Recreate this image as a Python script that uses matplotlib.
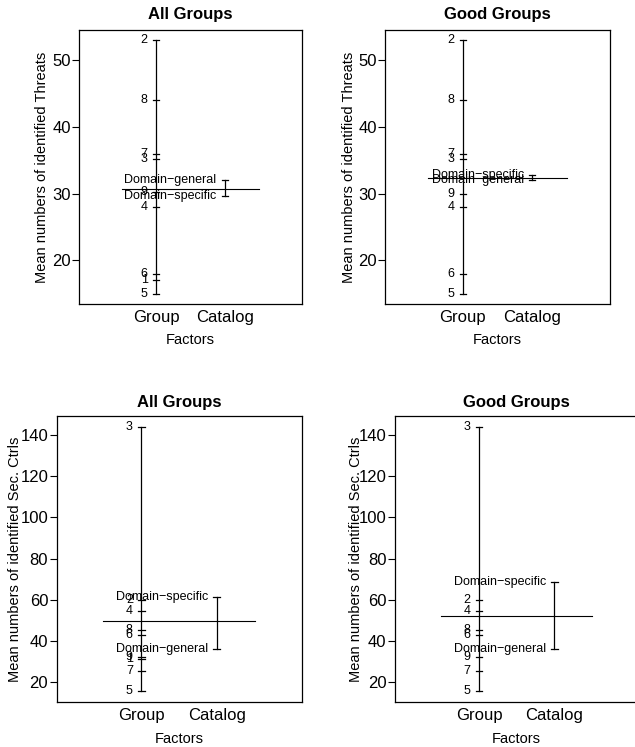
import matplotlib
matplotlib.use("Agg")
import matplotlib.pyplot as plt
import numpy as np

plt.rcParams['font.family'] = ['Liberation Sans', 'DejaVu Sans']

# ---------------- data ----------------
factor_names = ["Group", "Catalog"]

thr_all_group_labels = ["1", "2", "3", "4", "5", "6", "7", "8", "9"]
thr_all_group_values = [17.1, 53.0, 35.2, 28.0, 15.0, 18.0, 36.0, 44.0, 30.2]
thr_all_cat_labels = ["Domain\u2212general", "Domain\u2212specific"]
thr_all_cat_values = [32.0, 29.6]
thr_all_mean = 30.75

thr_good_group_labels = ["2", "3", "4", "5", "6", "7", "8", "9"]
thr_good_group_values = [53.0, 35.2, 28.0, 15.0, 18.0, 36.0, 44.0, 30.0]
thr_good_cat_labels = ["Domain\u2212general", "Domain\u2212specific"]
thr_good_cat_values = [32.0, 32.8]
thr_good_mean = 32.35

sec_all_group_labels = ["1", "2", "3", "4", "5", "6", "7", "8", "9"]
sec_all_group_values = [31.3, 60.1, 144.1, 54.4, 15.5, 43.1, 25.6, 45.1, 32.4]
sec_all_cat_labels = ["Domain\u2212general", "Domain\u2212specific"]
sec_all_cat_values = [36.2, 61.4]
sec_all_mean = 49.9

sec_good_group_labels = ["2", "3", "4", "5", "6", "7", "8", "9"]
sec_good_group_values = [60.1, 144.1, 54.4, 15.5, 42.7, 25.6, 45.1, 32.4]
sec_good_cat_labels = ["Domain\u2212general", "Domain\u2212specific"]
sec_good_cat_values = [36.2, 68.5]
sec_good_mean = 52.1

thr_yticks = [20, 30, 40, 50]
sec_yticks = [20, 40, 60, 80, 100, 120, 140]

W, H = 635, 747
fig = plt.figure(figsize=(W / 100, H / 100), dpi=100)


def add_ax(x0, x1, y0, y1):
    return fig.add_axes([x0 / W, 1 - y1 / H, (x1 - x0) / W, (y1 - y0) / H])


def design_panel(ax, groups, cats, mean, yticks, tick_fs):
    allv = list(groups[1]) + list(cats[1])
    lo, hi = min(allv), max(allv)
    r = hi - lo
    ax.set_ylim(lo - 0.04 * r, hi + 0.04 * r)
    ax.set_xlim(-0.12, 3.12)
    for i, (labs, vals) in enumerate([groups, cats], start=1):
        ax.plot([i, i], [min(vals), max(vals)], color='black', lw=0.9)
        for lab, v in zip(labs, vals):
            ax.plot([i - 0.045, i + 0.045], [v, v], color='black', lw=0.9)
            ax.annotate(lab, (i, v), xytext=(-6, 0), textcoords='offset points',
                        ha='right', va='center', fontsize=9)
    ax.plot([0.5, 2.5], [mean, mean], color='black', lw=0.8)
    ax.set_yticks(yticks)
    ax.set_yticklabels([str(t) for t in yticks], fontsize=tick_fs)
    ax.set_xticks([1, 2])
    ax.set_xticklabels(factor_names, fontsize=12)
    ax.tick_params(axis='x', length=0, pad=4)
    ax.tick_params(axis='y', length=5, width=0.8, pad=1, direction='out')
    for s in ax.spines.values():
        s.set_linewidth(0.9)


ax1 = add_ax(79, 302, 30, 304)
design_panel(ax1, (thr_all_group_labels, thr_all_group_values),
             (thr_all_cat_labels, thr_all_cat_values), thr_all_mean, thr_yticks, 12)
ax2 = add_ax(385, 610, 30, 304)
design_panel(ax2, (thr_good_group_labels, thr_good_group_values),
             (thr_good_cat_labels, thr_good_cat_values), thr_good_mean, thr_yticks, 12)
ax3 = add_ax(56.5, 301.5, 416, 702)
design_panel(ax3, (sec_all_group_labels, sec_all_group_values),
             (sec_all_cat_labels, sec_all_cat_values), sec_all_mean, sec_yticks, 12)
ax4 = add_ax(394.7, 638.6, 416, 702)
design_panel(ax4, (sec_good_group_labels, sec_good_group_values),
             (sec_good_cat_labels, sec_good_cat_values), sec_good_mean, sec_yticks, 12)


def ftext(x, y, s, **kw):
    fig.text(x / W, 1 - y / H, s, ha='center', va='center', **kw)


ftext(190.5, 15, "All Groups", fontsize=12, fontweight='bold')
ftext(497.5, 15, "Good Groups", fontsize=12, fontweight='bold')
ftext(179, 402, "All Groups", fontsize=12, fontweight='bold')
ftext(516.5, 402, "Good Groups", fontsize=12, fontweight='bold')

ftext(190.5, 340.5, "Factors", fontsize=10.5)
ftext(497.5, 340.5, "Factors", fontsize=10.5)
ftext(179, 739, "Factors", fontsize=10.5)
ftext(516.5, 739, "Factors", fontsize=10.5)

ftext(42, 167, "Mean numbers of identified Threats", fontsize=10.5, rotation=90)
ftext(349, 167, "Mean numbers of identified Threats", fontsize=10.5, rotation=90)
ftext(15, 559, "Mean numbers of identified Sec. Ctrls", fontsize=10.5, rotation=90)
ftext(356, 559, "Mean numbers of identified Sec. Ctrls", fontsize=10.5, rotation=90)

fig.savefig("out.png", dpi=100)
